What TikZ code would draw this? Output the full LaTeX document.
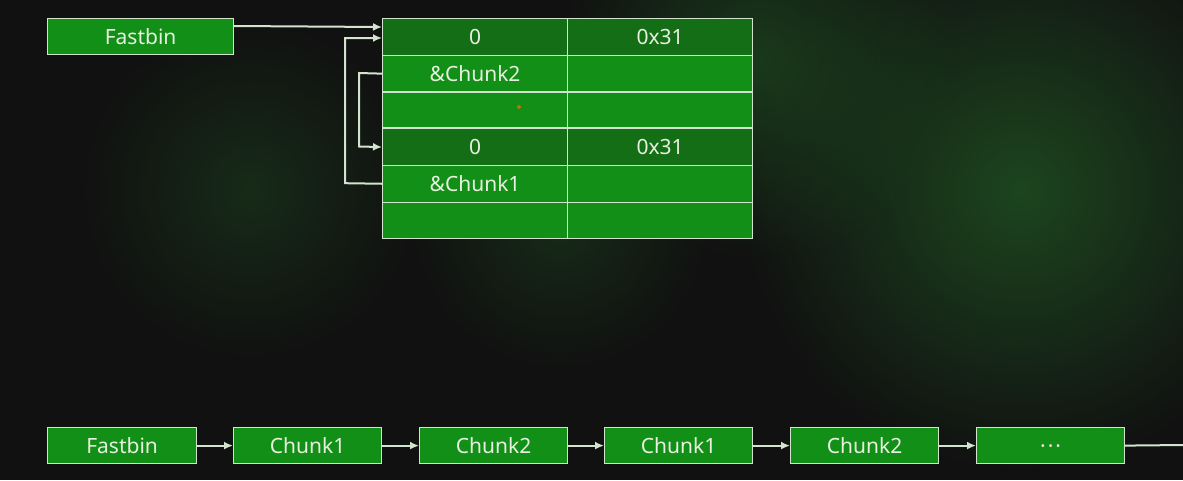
\documentclass[tikz,border=0pt]{standalone}
\usepackage{fontspec}
\setmainfont{Noto Sans}
\usetikzlibrary{arrows.meta,fadings}
\definecolor{bg}{RGB}{17,17,17}
\definecolor{boxgreen}{RGB}{17,143,22}
\definecolor{hdrgreen}{RGB}{19,110,22}
\definecolor{edge}{RGB}{210,228,205}
\definecolor{txt}{RGB}{232,240,224}
\definecolor{glow}{RGB}{30,75,32}
\tikzfading[name=glowfade, inner color=transparent!0, outer color=transparent!100]
\tikzset{
  cell/.style={draw=edge, line width=1.2pt, fill=boxgreen, text=txt, font=\fontsize{21}{25}\selectfont,
    minimum width=185pt, minimum height=36.7pt, inner sep=0pt, anchor=north west},
  hcell/.style={cell, fill=hdrgreen},
  lbox/.style={draw=edge, line width=1.2pt, fill=boxgreen, text=txt, font=\fontsize{21}{25}\selectfont,
    minimum width=148pt, minimum height=36pt, inner sep=0pt, anchor=north west},
  link/.style={draw=edge, line width=2pt, -{Latex[length=9pt,width=8pt]}},
  plain/.style={draw=edge, line width=2pt},
  haze/.style={fill=glow, path fading=glowfade}
}
\begin{document}
\begin{tikzpicture}[x=1pt,y=-1pt]
\useasboundingbox (0,0) rectangle (1183,480);
\fill[bg] (0,0) rectangle (1183,480);
\fill[haze, fill opacity=0.9] (1020,190) circle (280);
\fill[haze, fill opacity=0.7] (760,60) circle (200);
\fill[haze, fill opacity=0.45] (250,190) circle (170);
\fill[haze, fill opacity=0.45] (560,220) circle (150);

% top Fastbin
\node[lbox, minimum width=186pt] (fb) at (47,18) {Fastbin};

% table
\node[hcell] (r1a) at (382,18) {0};
\node[hcell] (r1b) at (567,18) {0x31};
\node[cell] (r2a) at (382,54.7) {\&Chunk2};
\node[cell] (r2b) at (567,54.7) {};
\node[cell] (r3a) at (382,91.4) {};
\node[cell] (r3b) at (567,91.4) {};
\node[hcell] (r4a) at (382,128.1) {0};
\node[hcell] (r4b) at (567,128.1) {0x31};
\node[cell] (r5a) at (382,164.8) {\&Chunk1};
\node[cell] (r5b) at (567,164.8) {};
\node[cell] (r6a) at (382,201.5) {};
\node[cell] (r6b) at (567,201.5) {};
\draw[edge, line width=2.2pt] (r4a.north west) -- (r4b.north east);
\draw[orange!80!red, line width=0.8pt] (519,107) circle (1.5);

% pointers
\draw[link] ([yshift=-8pt]fb.north east) -- ([yshift=-9pt]r1a.north west);
\draw[link] (r5a.west) -- (345,183.2) -- (345,38) -- ([yshift=-20pt]r1a.north west);
\draw[link] (r2a.west) -- (359,73) -- (359,146.5) -- (r4a.west);

% bottom list
\node[lbox, minimum width=149pt] (b0) at (47,427) {Fastbin};
\node[lbox] (b1) at (233,427) {Chunk1};
\node[lbox] (b2) at (419,427) {Chunk2};
\node[lbox] (b3) at (604,427) {Chunk1};
\node[lbox] (b4) at (790,427) {Chunk2};
\node[lbox] (b5) at (976,427) {\vphantom{Chk}·\hspace{2pt}·\hspace{2pt}·};
\coordinate (tail) at (1183,445);
\draw[link] (b0.east) -- (b1.west);
\draw[link] (b1.east) -- (b2.west);
\draw[link] (b2.east) -- (b3.west);
\draw[link] (b3.east) -- (b4.west);
\draw[link] (b4.east) -- (b5.west);
\draw[plain] (b5.east) -- (tail);
\end{tikzpicture}
\end{document}
